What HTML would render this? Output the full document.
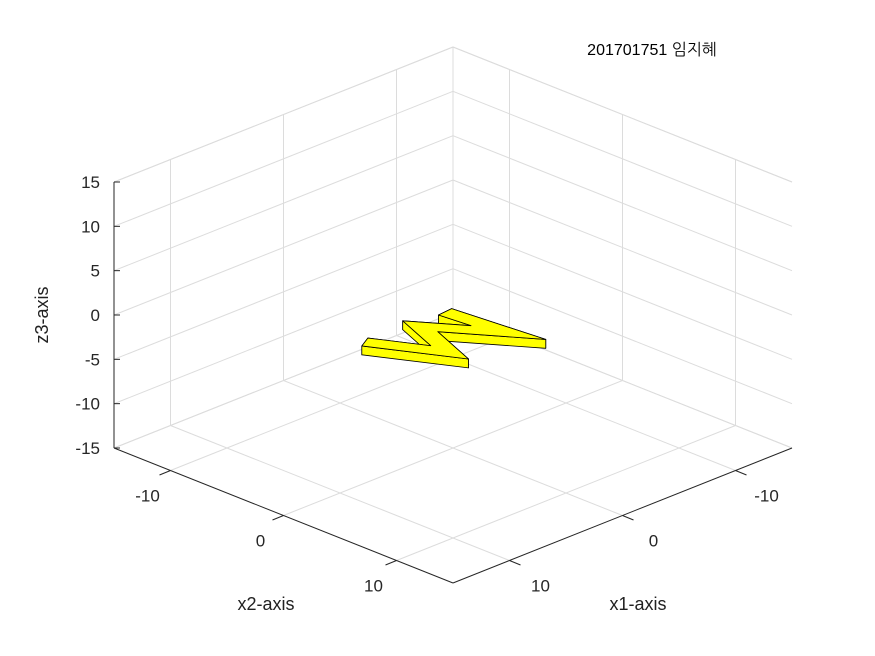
<!DOCTYPE html>
<html><head><meta charset="utf-8">
<style>
html,body{margin:0;padding:0;background:#fff;}
svg{display:block;font-family:"Liberation Sans","NanumGothic",sans-serif;}
</style></head>
<body>
<svg id="chart" width="875" height="656" viewBox="0 0 875 656" xmlns="http://www.w3.org/2000/svg">
<rect width="875" height="656" fill="#fff"/>
<g id="grid"></g>
<g id="shape"></g>
<g id="axes"></g>
<text x="652" y="55" font-size="16" text-anchor="middle" fill="#000">201701751 임지혜</text>
<text x="48" y="315" font-size="18" text-anchor="middle" transform="rotate(-90 48 315)" fill="#222">z3-axis</text>
<text x="266" y="610" font-size="18" text-anchor="middle" fill="#222">x2-axis</text>
<text x="638" y="610" font-size="18" text-anchor="middle" fill="#222">x1-axis</text>
</svg>
<script>
const x1Ticks = [-10, 0, 10];
const x2Ticks = [-10, 0, 10];
const zTicks = [-15, -10, -5, 0, 5, 10, 15];
const zTickLabels = ["-15", "-10", "-5", "0", "5", "10", "15"];
const pathX1 = [6.9, 4.3, 2.7, -0.5, 0.0];
const pathX2 = [-0.9, 4.0, -0.2, 4.4, -0.7];
const strokeWidth = [1.3];
const zBottom = [-1.0];
const zTop = [0.0];

const NS = "http://www.w3.org/2000/svg";
function proj(x1, x2, z) {
  const u = (15 - x1) / 30, v = (15 - x2) / 30;
  return [453 + 339 * u - 339 * v, 583 - 135 * u - 135 * v - 266 * (z + 15) / 30];
}
function mk(tag, attrs, parent) {
  const e = document.createElementNS(NS, tag);
  for (const k in attrs) e.setAttribute(k, attrs[k]);
  parent.appendChild(e);
  return e;
}
function seg(p, q, stroke, w, parent, name) {
  const e = mk("line", {x1: p[0], y1: p[1], x2: q[0], y2: q[1], stroke: stroke, "stroke-width": w}, parent);
  
  
  return e;
}
const gridG = document.getElementById("grid");
const axesG = document.getElementById("axes");
const gc = "#dcdcdc";
zTicks.forEach(z => {
  seg(proj(15, -15, z), proj(-15, -15, z), gc, 1, gridG, 'z-grid-left-wall');
  seg(proj(-15, -15, z), proj(-15, 15, z), gc, 1, gridG, 'z-grid-right-wall');
});
x1Ticks.forEach(t => {
  seg(proj(t, -15, -15), proj(t, -15, 15), gc, 1, gridG, 'x1-grid-wall');
  seg(proj(t, -15, -15), proj(t, 15, -15), gc, 1, gridG, 'x1-grid-floor');
});
x2Ticks.forEach(t => {
  seg(proj(-15, t, -15), proj(-15, t, 15), gc, 1, gridG, 'x2-grid-wall');
  seg(proj(-15, t, -15), proj(15, t, -15), gc, 1, gridG, 'x2-grid-floor');
});
seg(proj(-15, -15, -15), proj(-15, -15, 15), gc, 1, gridG, 'back-edge');
seg(proj(15, -15, 15), proj(-15, -15, 15), gc, 1, gridG, 'top-edge-left');
seg(proj(-15, -15, 15), proj(-15, 15, 15), gc, 1, gridG, 'top-edge-right');
seg(proj(15, -15, -15), proj(-15, -15, -15), gc, 1, gridG, 'floor-edge-left');
seg(proj(-15, -15, -15), proj(-15, 15, -15), gc, 1, gridG, 'floor-edge-right');

const ac = "#262626";
seg(proj(15, -15, -15), proj(15, -15, 15), ac, 1, axesG, 'z-axis-line');
seg(proj(15, -15, -15), proj(15, 15, -15), ac, 1, axesG, 'x2-axis-line');
seg(proj(15, 15, -15), proj(-15, 15, -15), ac, 1, axesG, 'x1-axis-line');
zTicks.forEach((z, i) => {
  const p = proj(15, -15, z);
  seg(p, [p[0] + 6, p[1]], ac, 1, axesG, 'z-tick');
  const t = mk("text", {x: p[0] - 14, y: p[1] + 6, "font-size": 17, "text-anchor": "end", fill: "#262626"}, axesG);
  t.textContent = zTickLabels[i];
  
  
});
x2Ticks.forEach(v => {
  const p = proj(15, v, -15);
  seg(p, [p[0] - 11, p[1] + 4.5], ac, 1, axesG, 'x2-tick');
  const t = mk("text", {x: p[0] - 23, y: p[1] + 31, "font-size": 17, "text-anchor": "middle", fill: "#262626"}, axesG);
  t.textContent = String(v);
  
  
});
x1Ticks.forEach(v => {
  const p = proj(v, 15, -15);
  seg(p, [p[0] + 11, p[1] + 4.5], ac, 1, axesG, 'x1-tick');
  const t = mk("text", {x: p[0] + 31, y: p[1] + 31, "font-size": 17, "text-anchor": "middle", fill: "#262626"}, axesG);
  t.textContent = String(v);
  
  
});

const shapeG = document.getElementById("shape");
const n = pathX1.length, hw = strokeWidth[0] / 2;
const Lp = [], Rp = [];
function nrm(i) {
  const dx = pathX1[i + 1] - pathX1[i], dy = pathX2[i + 1] - pathX2[i];
  const l = Math.hypot(dx, dy);
  return [-dy / l, dx / l];
}
for (let i = 0; i < n; i++) {
  let m;
  if (i === 0) m = nrm(0);
  else if (i === n - 1) m = nrm(n - 2);
  else {
    const a = nrm(i - 1), b = nrm(i);
    const s = [a[0] + b[0], a[1] + b[1]];
    const sl = Math.hypot(s[0], s[1]) || 1;
    const mu = [s[0] / sl, s[1] / sl];
    const d = Math.max(mu[0] * a[0] + mu[1] * a[1], 0.25);
    m = [mu[0] / d, mu[1] / d];
  }
  Lp.push([pathX1[i] + m[0] * hw, pathX2[i] + m[1] * hw]);
  Rp.push([pathX1[i] - m[0] * hw, pathX2[i] - m[1] * hw]);
}
const outline = Lp.concat(Rp.slice().reverse());
const sides = [];
for (let i = 0; i < outline.length; i++) {
  const a = outline[i], b = outline[(i + 1) % outline.length];
  sides.push({a, b, depth: a[0] + a[1] + b[0] + b[1]});
}
sides.sort((p, q) => p.depth - q.depth);
const z0 = zBottom[0], z1 = zTop[0];
sides.forEach(s => {
  const pts = [proj(s.a[0], s.a[1], z0), proj(s.b[0], s.b[1], z0), proj(s.b[0], s.b[1], z1), proj(s.a[0], s.a[1], z1)];
  const e = mk("polygon", {points: pts.map(p => p.join(",")).join(" "), fill: "#ffff00", stroke: "#000", "stroke-width": 0.8, "stroke-linejoin": "round"}, shapeG);
  
  
});
const topFace = mk("polygon", {points: outline.map(p => proj(p[0], p[1], z1).join(",")).join(" "), fill: "#ffff00", stroke: "#000", "stroke-width": 0.8, "stroke-linejoin": "round"}, shapeG);


</script>
</body></html>
